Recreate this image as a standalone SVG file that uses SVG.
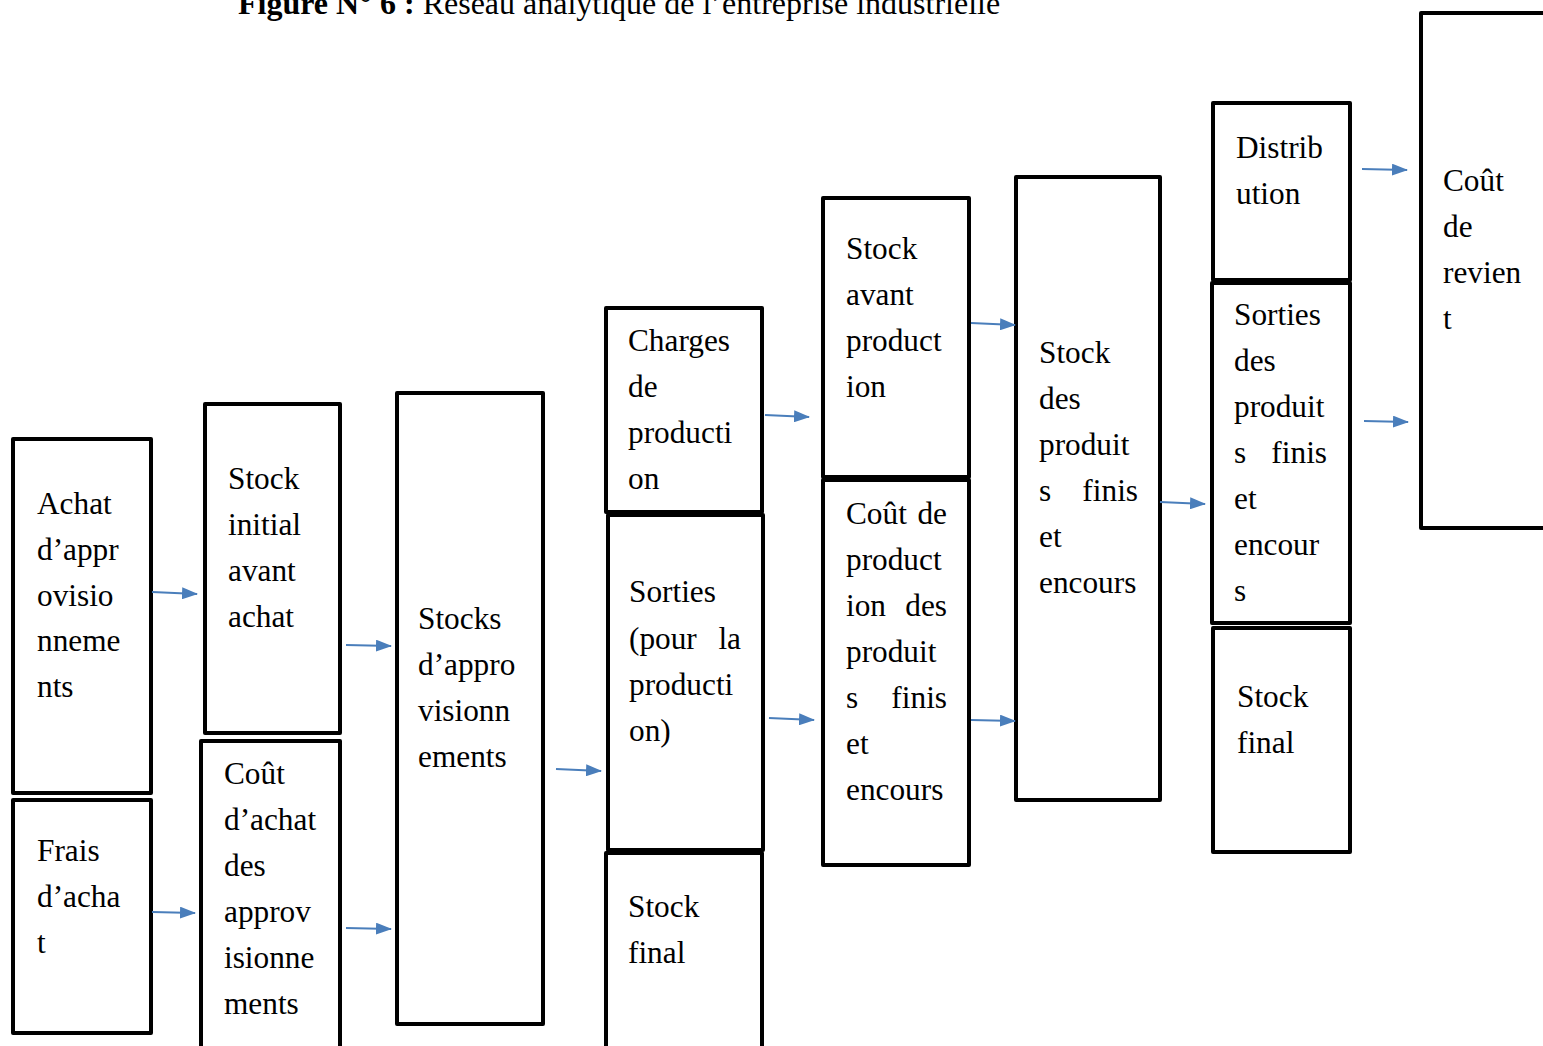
<svg xmlns="http://www.w3.org/2000/svg" width="1543" height="1046" viewBox="0 0 1543 1046">
  <style>
    .box { fill: #ffffff; stroke: #000000; stroke-width: 4; stroke-linejoin: round; }
    .lbl { font-family: "Liberation Serif", "Times New Roman", serif; font-size: 31.3px; fill: #000000; }
    .end { text-anchor: end; }
    .title { font-family: "Liberation Serif", "Times New Roman", serif; font-size: 32px; fill: #000000; }
    .link { stroke: #4a7ebb; stroke-width: 2; fill: none; marker-end: url(#arrow); }
  </style>
  <defs>
    <marker id="arrow" viewBox="0 0 16 12" refX="15" refY="6" markerWidth="16" markerHeight="12" markerUnits="userSpaceOnUse" orient="auto">
      <path d="M0,0 L16,6 L0,12 z" fill="#4a7ebb"/>
    </marker>
  </defs>
  <rect width="1543" height="1046" fill="#ffffff"/>

  <text class="title" x="238" y="14"><tspan font-weight="bold">Figure N° 6 :</tspan> Réseau analytique de l’entreprise industrielle</text>

  <g id="achat">
    <rect class="box" x="13" y="439" width="138" height="354"/>
    <text class="lbl" x="37" y="514">Achat</text>
    <text class="lbl" x="37" y="560">d’appr</text>
    <text class="lbl" x="37" y="606">ovisio</text>
    <text class="lbl" x="37" y="651">nneme</text>
    <text class="lbl" x="37" y="697">nts</text>
  </g>
  <g id="frais">
    <rect class="box" x="13" y="800" width="138" height="233"/>
    <text class="lbl" x="37" y="861">Frais</text>
    <text class="lbl" x="37" y="907">d’acha</text>
    <text class="lbl" x="37" y="953">t</text>
  </g>
  <g id="stock-initial">
    <rect class="box" x="205" y="404" width="135" height="329"/>
    <text class="lbl" x="228" y="489">Stock</text>
    <text class="lbl" x="228" y="535">initial</text>
    <text class="lbl" x="228" y="581">avant</text>
    <text class="lbl" x="228" y="627">achat</text>
  </g>
  <g id="cout-achat">
    <rect class="box" x="201" y="741" width="139" height="310"/>
    <text class="lbl" x="224" y="784">Coût</text>
    <text class="lbl" x="224" y="830">d’achat</text>
    <text class="lbl" x="224" y="876">des</text>
    <text class="lbl" x="224" y="922">approv</text>
    <text class="lbl" x="224" y="968">isionne</text>
    <text class="lbl" x="224" y="1014">ments</text>
  </g>
  <g id="stocks-appro">
    <rect class="box" x="397" y="393" width="146" height="631"/>
    <text class="lbl" x="418" y="629">Stocks</text>
    <text class="lbl" x="418" y="675">d’appro</text>
    <text class="lbl" x="418" y="721">visionn</text>
    <text class="lbl" x="418" y="767">ements</text>
  </g>
  <g id="charges-production">
    <rect class="box" x="606" y="308" width="156" height="204"/>
    <text class="lbl" x="628" y="351">Charges</text>
    <text class="lbl" x="628" y="397">de</text>
    <text class="lbl" x="628" y="443">producti</text>
    <text class="lbl" x="628" y="489">on</text>
  </g>
  <g id="sorties-production">
    <rect class="box" x="608" y="515" width="155" height="335"/>
    <text class="lbl" x="629" y="602">Sorties</text>
    <text class="lbl" x="629" y="649">(pour</text>
    <text class="lbl end" x="741" y="649">la</text>
    <text class="lbl" x="629" y="695">producti</text>
    <text class="lbl" x="629" y="741">on)</text>
  </g>
  <g id="stock-final-appro">
    <rect class="box" x="606" y="853" width="156" height="200"/>
    <text class="lbl" x="628" y="917">Stock</text>
    <text class="lbl" x="628" y="963">final</text>
  </g>
  <g id="stock-avant-production">
    <rect class="box" x="823" y="198" width="146" height="279"/>
    <text class="lbl" x="846" y="259">Stock</text>
    <text class="lbl" x="846" y="305">avant</text>
    <text class="lbl" x="846" y="351">product</text>
    <text class="lbl" x="846" y="397">ion</text>
  </g>
  <g id="cout-production">
    <rect class="box" x="823" y="480" width="146" height="385"/>
    <text class="lbl" x="846" y="524">Coût</text>
    <text class="lbl end" x="947" y="524">de</text>
    <text class="lbl" x="846" y="570">product</text>
    <text class="lbl" x="846" y="616">ion</text>
    <text class="lbl end" x="947" y="616">des</text>
    <text class="lbl" x="846" y="662">produit</text>
    <text class="lbl" x="846" y="708">s</text>
    <text class="lbl end" x="947" y="708">finis</text>
    <text class="lbl" x="846" y="754">et</text>
    <text class="lbl" x="846" y="800">encours</text>
  </g>
  <g id="stock-produits-finis">
    <rect class="box" x="1016" y="177" width="144" height="623"/>
    <text class="lbl" x="1039" y="363">Stock</text>
    <text class="lbl" x="1039" y="409">des</text>
    <text class="lbl" x="1039" y="455">produit</text>
    <text class="lbl" x="1039" y="501">s</text>
    <text class="lbl end" x="1138" y="501">finis</text>
    <text class="lbl" x="1039" y="547">et</text>
    <text class="lbl" x="1039" y="593">encours</text>
  </g>
  <g id="distribution">
    <rect class="box" x="1213" y="103" width="137" height="177"/>
    <text class="lbl" x="1236" y="158">Distrib</text>
    <text class="lbl" x="1236" y="204">ution</text>
  </g>
  <g id="sorties-produits-finis">
    <rect class="box" x="1212" y="283" width="138" height="340"/>
    <text class="lbl" x="1234" y="325">Sorties</text>
    <text class="lbl" x="1234" y="371">des</text>
    <text class="lbl" x="1234" y="417">produit</text>
    <text class="lbl" x="1234" y="463">s</text>
    <text class="lbl end" x="1327" y="463">finis</text>
    <text class="lbl" x="1234" y="509">et</text>
    <text class="lbl" x="1234" y="555">encour</text>
    <text class="lbl" x="1234" y="601">s</text>
  </g>
  <g id="stock-final-produits">
    <rect class="box" x="1213" y="628" width="137" height="224"/>
    <text class="lbl" x="1237" y="707">Stock</text>
    <text class="lbl" x="1237" y="753">final</text>
  </g>
  <g id="cout-revient">
    <rect class="box" x="1421" y="13" width="130" height="515"/>
    <text class="lbl" x="1443" y="191">Coût</text>
    <text class="lbl" x="1443" y="237">de</text>
    <text class="lbl" x="1443" y="283">revien</text>
    <text class="lbl" x="1443" y="329">t</text>
  </g>

  <g id="connectors">
    <line class="link" x1="152" y1="592" x2="197" y2="594"/>
    <line class="link" x1="346" y1="645" x2="391" y2="646"/>
    <line class="link" x1="152" y1="912" x2="195" y2="913"/>
    <line class="link" x1="346" y1="928" x2="391" y2="929"/>
    <line class="link" x1="556" y1="769" x2="601" y2="771"/>
    <line class="link" x1="765" y1="415" x2="809" y2="417"/>
    <line class="link" x1="769" y1="718" x2="814" y2="720"/>
    <line class="link" x1="971" y1="323" x2="1015" y2="325"/>
    <line class="link" x1="971" y1="720" x2="1015" y2="721"/>
    <line class="link" x1="1160" y1="502" x2="1205" y2="504"/>
    <line class="link" x1="1362" y1="169" x2="1407" y2="170"/>
    <line class="link" x1="1364" y1="421" x2="1408" y2="422"/>
  </g>
</svg>
